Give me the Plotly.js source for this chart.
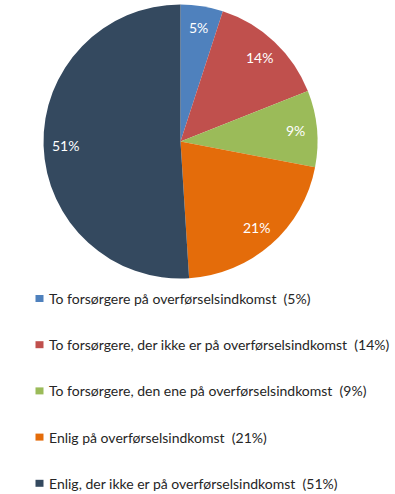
<!DOCTYPE html>
<html><head><meta charset="utf-8">
<script src="https://cdn.plot.ly/plotly-3.0.1.min.js"></script>
<style>html,body{margin:0;padding:0;background:#fff}#chart{width:395px;height:494px}</style>
</head><body><div id="chart"></div>
<script>
const categories = [
  "To forsørgere på overførselsindkomst",
  "To forsørgere, der ikke er på overførselsindkomst",
  "To forsørgere, den ene på overførselsindkomst",
  "Enlig på overførselsindkomst",
  "Enlig, der ikke er på overførselsindkomst"
];
const values = [5, 14, 9, 21, 51];
const colors = ["#4f81bd", "#c0504d", "#9bbb59", "#e46c0a", "#34495f"];

const W = 395, H = 494;
const cx = 180.5, cy = 141.5, R = 137;
const FONT = "Lato, 'Noto Sans', sans-serif";
const legendTop = 298.5, legendStep = 46.2, legendX = 35.5;
const annotations = [], shapes = [];
categories.forEach((c, i) => {
  const yPix = legendTop + i * legendStep;
  shapes.push({type: "rect", xref: "paper", yref: "paper",
    x0: legendX / W, x1: (legendX + 8) / W,
    y0: 1 - (yPix + 3.5) / H, y1: 1 - (yPix - 3.5) / H,
    fillcolor: colors[i], line: {width: 0}});
  annotations.push({xref: "paper", yref: "paper", x: (legendX + 11) / W, y: 1 - yPix / H,
    xanchor: "left", yanchor: "middle", showarrow: false,
    text: c + "  (" + values[i] + "%)",
    font: {family: FONT, size: 14, color: "#262626"}});
});

// percent labels placed at ~0.84 R along each slice's mid-angle (clockwise from 12 o'clock)
const total = values.reduce((a, b) => a + b, 0);
let cum = 0;
values.forEach((v, i) => {
  const mid = (cum + v / 2) / total * 2 * Math.PI;
  cum += v;
  const r = 0.84 * R;
  annotations.push({xref: "paper", yref: "paper",
    x: (cx + r * Math.sin(mid)) / W, y: 1 - (cy - r * Math.cos(mid)) / H,
    xanchor: "center", yanchor: "middle", showarrow: false,
    text: v + "%", font: {family: FONT, size: 14, color: "#ffffff"}});
});

const data = [{
  type: "pie", labels: categories, values: values, sort: false, direction: "clockwise",
  rotation: 0, marker: {colors: colors, line: {width: 0}},
  textinfo: "none",
  domain: {x: [(cx - R) / W, (cx + R) / W], y: [1 - (cy + R) / H, 1 - (cy - R) / H]},
  hoverinfo: "label+percent", showlegend: false
}];
const layout = {width: W, height: H, margin: {l: 0, r: 0, t: 0, b: 0},
  paper_bgcolor: "#fff", showlegend: false, annotations: annotations, shapes: shapes};
Plotly.newPlot("chart", data, layout, {displayModeBar: false, staticPlot: true});
</script></body></html>
